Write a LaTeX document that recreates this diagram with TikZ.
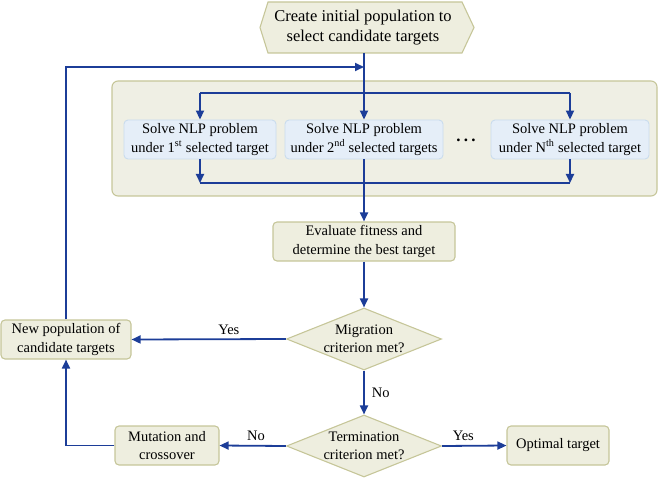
\documentclass[tikz,border=0pt]{standalone}
\usepackage{fontspec}
\setmainfont{Liberation Serif}
\usetikzlibrary{shapes.geometric,arrows.meta}
\definecolor{olivefill}{HTML}{EEEEDF}
\definecolor{oliveline}{HTML}{C6C699}
\definecolor{contfill}{HTML}{EFEFE4}
\definecolor{bluefill}{HTML}{E5EEF8}
\definecolor{blueline}{HTML}{C9DCEE}
\definecolor{arrowblue}{HTML}{1C3D98}
\begin{document}
\begin{tikzpicture}[x=1pt,y=-1pt,
  font=\fontsize{14.5}{18.5}\selectfont,
  obox/.style={draw=oliveline, fill=olivefill, rounded corners=4pt, line width=1.1pt, align=center, inner sep=0pt},
  bbox/.style={draw=blueline, fill=bluefill, rounded corners=4pt, line width=0.9pt, align=center, inner sep=0pt},
  dbox/.style={diamond, draw=oliveline, fill=olivefill, line width=1.1pt, inner sep=0pt, aspect=2.5, minimum width=155pt, minimum height=62pt},
  flow/.style={draw=arrowblue, line width=1.8pt, -{Triangle[length=9pt,width=8pt]}},
  plain/.style={draw=arrowblue, line width=1.8pt},
  lbl/.style={inner sep=1pt},
  ]
\useasboundingbox (0,0) rectangle (660,478);

% start hexagon
\filldraw[fill=olivefill, draw=oliveline, line width=1.1pt]
  (268,2) -- (462,2) -- (474,27.5) -- (462,53) -- (268,53) -- (260,27.5) -- cycle;
\node[align=center, inner sep=0pt, font=\fontsize{16.5}{20}\selectfont] (start) at (363,27.5)
  {Create initial population to\\select candidate targets};
\coordinate (hexbot) at (364,53);

% container
\node[draw=oliveline, fill=contfill, rounded corners=6pt, line width=1.1pt, inner sep=0pt,
  minimum width=545pt, minimum height=115pt] (cont) at (384.5,138.5) {};

% solve boxes
\node[bbox, minimum width=152pt, minimum height=39pt] (box1) at (200,139.5)
  {Solve NLP problem\\under 1\textsuperscript{st} selected target};
\node[bbox, minimum width=158pt, minimum height=39pt] (box2) at (364,139.5)
  {Solve NLP problem\\under 2\textsuperscript{nd} selected targets};
\node[bbox, minimum width=158pt, minimum height=39pt] (box3) at (570,139.5)
  {Solve NLP problem\\under N\textsuperscript{th} selected target};
\node[inner sep=0pt, font=\fontsize{17}{17}\selectfont\bfseries] (dots) at (466,140) {.\kern3.2pt.\kern3.2pt.};

\coordinate (dist) at (364,93);
\coordinate (coll) at (364,183);

% other nodes
\node[obox, minimum width=182pt, minimum height=39pt] (eval) at (364,241.5)
  {Evaluate fitness and\\determine the best target};
\node[dbox] (mig) at (364,339) {};
\node[align=center, inner sep=0pt] (migt) at (mig) {Migration\\criterion met?};
\node[dbox] (term) at (364,446) {};
\node[align=center, inner sep=0pt] (termt) at (term) {Termination\\criterion met?};
\node[obox, minimum width=130pt, minimum height=39pt] (newpop) at (66,339.5)
  {New population of\\candidate targets};
\node[obox, minimum width=104pt, minimum height=39pt] (mut) at (167,445.5)
  {Mutation and\\crossover};
\node[obox, minimum width=102pt, minimum height=39pt] (opt) at (558,445.5)
  {Optimal target};
\coordinate (fb) at (364,67);

% connectors
\draw[flow] (hexbot) -- (box2.north);
\draw[plain] (box1.north |- dist) -- (box3.north |- dist);
\draw[flow] (box1.north |- dist) -- (box1.north);
\draw[flow] (box3.north |- dist) -- (box3.north);
\draw[flow] (box1.south) -- (box1.south |- coll);
\draw[flow] (box3.south) -- (box3.south |- coll);
\draw[plain] (box1.south |- coll) -- (box3.south |- coll);
\draw[flow] (box2.south) -- (eval.north);
\draw[flow] (eval.south) -- (mig.north);
\draw[flow] (mig.west) -- node[lbl, pos=0.37, above=3pt] {Yes} (newpop.east);
\draw[flow] (mig.south) -- node[lbl, right=6pt] {No} (term.north);
\draw[flow] (term.west) -- node[lbl, pos=0.45, above=3pt] {No} (mut.east);
\draw[flow] (term.east) -- node[lbl, pos=0.33, above=3pt] {Yes} (opt.west);
\draw[flow] (mut.west) -| (newpop.south);
\draw[flow] (newpop.north) |- (fb);
\end{tikzpicture}
\end{document}
